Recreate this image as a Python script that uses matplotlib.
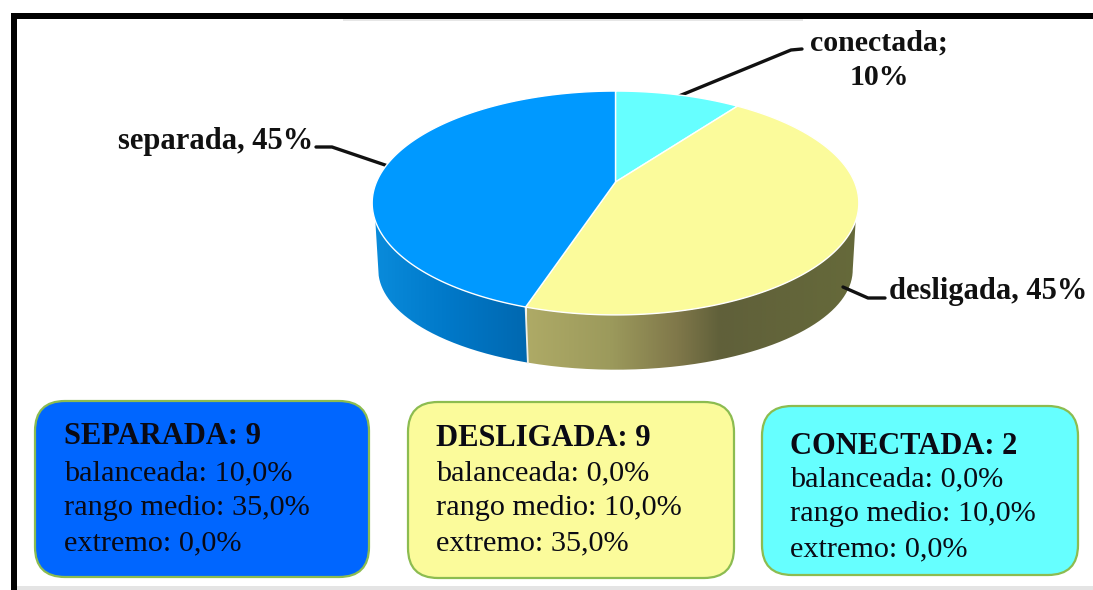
import numpy as np
import matplotlib
matplotlib.use('Agg')
import matplotlib.pyplot as plt
from matplotlib.patches import FancyBboxPatch, PathPatch, Polygon, Rectangle
from matplotlib.path import Path
from matplotlib.colors import LinearSegmentedColormap

plt.rcParams['font.family'] = ['Liberation Serif', 'DejaVu Serif']

categories = ['conectada', 'desligada', 'separada']
shares = [10, 45, 45]
slice_labels = ['conectada;\n10%', 'desligada, 45%', 'separada, 45%']
slice_colors = ['#66ffff', '#fbfb9b', '#0099ff']

box_titles = ['SEPARADA: 9', 'DESLIGADA: 9', 'CONECTADA: 2']
box_balanceada = ['10,0%', '0,0%', '0,0%']
box_rango = ['35,0%', '10,0%', '10,0%']
box_extremo = ['0,0%', '35,0%', '0,0%']
box_colors = ['#0066ff', '#fbfb9b', '#66ffff']


# circle seen in perspective, fitted on the top face of the pie
def top_rim(theta):
    x = np.sin(theta)
    z = np.cos(theta)
    w = 1 + 0.1875 * z
    return 615.5 + 239 * x / w, 182 - 108 * z / w


# lower edge of the pie side, a bit smaller than the top
def low_rim(theta):
    x = np.sin(theta)
    z = np.cos(theta)
    w = 1 + 0.1875 * z
    return 615.5 + 0.975 * 239 * x / w, 251 - 0.893 * 108 * z / w


def side_patch(ax, t0, t1, low0, low1, stops, x0, x1):
    xa, ya = top_rim(np.linspace(t0, t1, 200))
    xb, yb = low_rim(np.linspace(low1, low0, 200))
    verts = np.column_stack([np.r_[xa, xb], np.r_[ya, yb]])
    clip = PathPatch(Path(np.vstack([verts, verts[:1]])), fc='none', ec='none')
    ax.add_patch(clip)
    cmap = LinearSegmentedColormap.from_list('side', stops)
    im = ax.imshow(np.linspace(0, 1, 256)[None, :], cmap=cmap, aspect='auto',
                   extent=[x0, x1, 380, 190], zorder=2)
    im.set_clip_path(clip)


fig = plt.figure(figsize=(10.93, 5.9), dpi=100)
ax = fig.add_axes([0, 0, 1, 1])

angles = 2 * np.pi * np.r_[0, np.cumsum(shares)] / sum(shares)

# sides first, only the front half can be seen
side_patch(ax, 1.915, angles[2], 1.759, angles[2],
           [(0, '#aeaa66'), (0.25, '#9c9a5c'), (0.45, '#80784a'), (0.58, '#60603a'), (1, '#666a3a')],
           527, 860)
side_patch(ax, angles[2], 4.368, angles[2], 4.524,
           ['#0a8cdc', '#0078c8', '#0068b0'], 372, 527)

xa, ya = top_rim(angles[2])
xb, yb = low_rim(angles[2])
ax.plot([xa, xb], [ya, yb], color='#f0f0e8', lw=1.3, zorder=3)

for i in range(len(shares)):
    sx, sy = top_rim(np.linspace(angles[i], angles[i + 1], 200))
    verts = np.column_stack([np.r_[615.5, sx], np.r_[182, sy]])
    ax.add_patch(Polygon(verts, closed=True, fc=slice_colors[i], ec='white', lw=1.0, zorder=4))

# leader lines
leaders = [([679, 791, 802], [96, 50, 49]),
           ([843, 868, 885], [287, 298, 298]),
           ([388, 332, 316], [166, 147, 147])]
for lx, ly in leaders:
    ax.plot(lx, ly, color='#111111', lw=2.4, zorder=3, solid_capstyle='round')

ax.text(879, 60, slice_labels[0], ha='center', va='center', fontsize=21.5, fontweight='bold',
        color='#111111', linespacing=1.35, zorder=6)
ax.text(889, 291, slice_labels[1], ha='left', va='center', fontsize=22, fontweight='bold', color='#111111', zorder=6)
ax.text(118, 141, slice_labels[2], ha='left', va='center', fontsize=22, fontweight='bold', color='#111111', zorder=6)

# summary boxes
box_rects = [(35, 401, 334, 176), (408, 402, 326, 176), (762, 406, 316, 169)]
text_x = [64, 436, 790]
title_y = [437, 439, 447]
line_y = [473, 473, 479]
for i, (bx, by, bw, bh) in enumerate(box_rects):
    r = 30
    ax.add_patch(FancyBboxPatch((bx + r, by + r), bw - 2 * r, bh - 2 * r,
                                boxstyle=f'round,pad={r},rounding_size={r}',
                                fc=box_colors[i], ec='#8cbc50', lw=1.6, zorder=2))
    ax.text(text_x[i], title_y[i], box_titles[i], fontsize=22, fontweight='bold', color='#0a0a14',
            va='center', ha='left', zorder=5)
    lines = [f'balanceada: {box_balanceada[i]}', f'rango medio: {box_rango[i]}', f'extremo: {box_extremo[i]}']
    for j, line in enumerate(lines):
        ax.text(text_x[i], line_y[i] + j * 35, line, fontsize=21.8, color='#0a0a14',
                va='center', ha='left', zorder=5)

# frame of the screenshot, with what is left of the cut off title under it
ax.add_patch(Rectangle((343, 19), 460, 2, fc='#e6e6e6', ec='none', zorder=6))
ax.add_patch(Rectangle((11, 13), 1082, 6, fc='black', ec='none', zorder=7))
ax.add_patch(Rectangle((11, 13), 6, 577, fc='black', ec='none', zorder=7))
ax.add_patch(Rectangle((17, 586), 1076, 4, fc='#e4e4e4', ec='none', zorder=7))

ax.set_xlim(0, 1093)
ax.set_ylim(590, 0)
ax.axis('off')

fig.savefig('out.png', dpi=100)
